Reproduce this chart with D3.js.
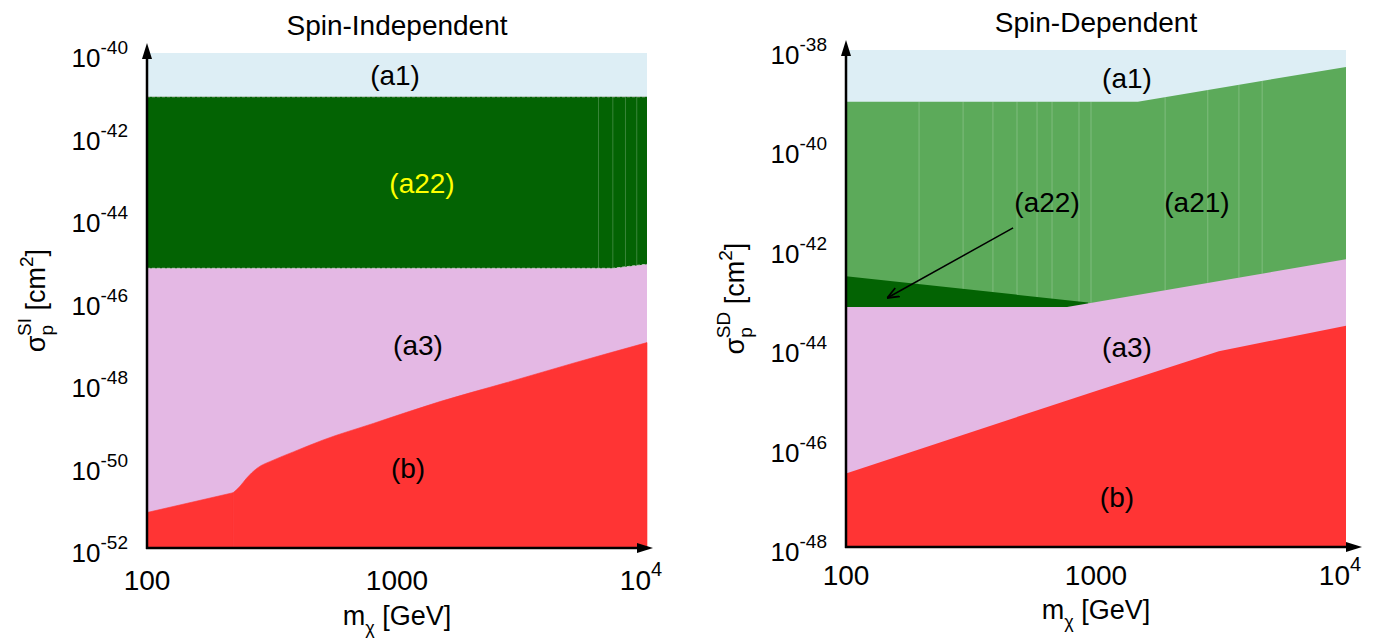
<!DOCTYPE html>
<html>
<head>
<meta charset="utf-8">
<script src="https://cdn.jsdelivr.net/npm/d3@7"></script>
<style>
  body { margin: 0; background: #fff; }
  text { font-family: "Liberation Sans", Arial, Helvetica, sans-serif; fill: #000; }
</style>
</head>
<body>
<svg id="chart" width="1378" height="641"></svg>
<script>
// ---------------- data (mass in GeV, log10 of cross section in cm^2) ----------------
var massTicks = [100, 1000, 10000];
var massTickLabels = [["100"], ["1000"], ["10", "4"]];

var siTickExps = [-40, -42, -44, -46, -48, -50, -52];
var sdTickExps = [-38, -40, -42, -44, -46, -48];

// Spin-Independent boundaries
var siA1Lower = [[100, -41.06], [10000, -41.06]];
var siA22Lower = [[100, -45.22], [7300, -45.22], [10000, -45.12]];
var siBKnee = [[100, -51.14], [221, -50.66]];
var siBUpper = [[221, -50.66], [235, -50.51], [250, -50.31], [275, -50.07], [320, -49.87], [385, -49.67],
                [507, -49.38], [804, -48.98], [1486, -48.45], [2746, -47.99], [5070, -47.52], [10000, -47.02]];
var siStripes = [6400, 7300, 8200, 9100];

// Spin-Dependent boundaries
var sdA1Lower = [[100, -39.04], [1470, -39.04], [10000, -38.34]];
var sdA22Upper = [[100, -42.55], [930, -43.08]];
var sdA3Upper = [[100, -43.17], [766, -43.17], [10000, -42.21]];
var sdBUpper = [[100, -46.52], [1000, -44.86], [3100, -44.06], [10000, -43.55]];
var sdStripes = [196, 294, 387, 483, 581, 667, 855, 955, 1890, 2800, 3730, 4620];

// region labels [text, mass, log10 sigma, colour]
var siLabels = [["(a1)", 982, -40.53, "#000"], ["(a22)", 1259, -43.15, "#ffff00"],
                ["(a3)", 1213, -47.08, "#000"], ["(b)", 1107, -50.06, "#000"]];
var sdLabels = [["(a1)", 1330, -38.56, "#000"], ["(a22)", 637, -41.06, "#000"],
                ["(a21)", 2535, -41.06, "#000"], ["(a3)", 1330, -43.98, "#000"], ["(b)", 1213, -46.99, "#000"]];
var sdPointer = [[466, -41.58], [146, -42.99]];

var colA1 = "#ddeef5", colA21 = "#5caa5a", colA22 = "#036303", colA3 = "#e4b8e4", colB = "#ff3434";

var svg = d3.select("#chart");
var defs = svg.append("defs");
defs.append("marker").attr("id", "ptr").attr("viewBox", "0 0 10 10")
    .attr("refX", 10).attr("refY", 5).attr("markerWidth", 12).attr("markerHeight", 12)
    .attr("markerUnits", "userSpaceOnUse").attr("orient", "auto")
    .append("path").attr("d", "M0,1 L10,5 L0,9").attr("fill", "none").attr("stroke", "#000").attr("stroke-width", 1.5);

// linear interpolation of a boundary in log-mass
function interp(bound, m) {
    var lm = Math.log10(m);
    for (var i = 0; i < bound.length - 1; i++) {
        var a = Math.log10(bound[i][0]), b = Math.log10(bound[i + 1][0]);
        if (lm >= a && lm <= b) return bound[i][1] + (bound[i + 1][1] - bound[i][1]) * (lm - a) / (b - a);
    }
    return bound[bound.length - 1][1];
}

function panel(cfg) {
    var g = svg.append("g");
    var x = d3.scaleLog().domain([100, 10000]).range([cfg.x0, cfg.x1]);
    var y = d3.scaleLog().domain([Math.pow(10, cfg.yMin), Math.pow(10, cfg.yMax)]).range([cfg.bottom, cfg.top]);
    var ys = function (e) { return y(Math.pow(10, e)); };

    // background region (a1)
    g.append("rect").attr("x", cfg.x0).attr("y", cfg.top)
        .attr("width", cfg.x1 - cfg.x0).attr("height", cfg.bottom - cfg.top).attr("fill", colA1);

    cfg.layers.forEach(function (l) {
        var area = d3.area().x(function (d) { return x(d[0]); })
            .y0(cfg.bottom).y1(function (d) { return ys(d[1]); })
            .curve(l.smooth ? d3.curveMonotoneX : d3.curveLinear);
        var p = g.append("path").datum(l.data).attr("d", area).attr("fill", l.color);
        if (l.seam) p.attr("stroke", l.color).attr("stroke-width", 0.6);
        if (l.stripes) {
            l.stripes.forEach(function (m) {
                g.append("line").attr("x1", x(m)).attr("x2", x(m))
                    .attr("y1", ys(interp(l.data, m))).attr("y2", ys(interp(l.stripeEnd, m)))
                    .attr("stroke", "#fff").attr("stroke-opacity", 0.22).attr("stroke-width", 1);
            });
        }
    });

    var line = d3.line().x(function (d) { return x(d[0]); }).y(function (d) { return ys(d[1]); });
    (cfg.dashed || []).forEach(function (b) {
        g.append("path").datum(b).attr("d", line).attr("fill", "none")
            .attr("stroke", "#c8c8c8").attr("stroke-width", 1).attr("stroke-dasharray", "3,2");
    });

    // region labels
    cfg.labels.forEach(function (l) {
        g.append("text").attr("x", x(l[1])).attr("y", ys(l[2])).attr("dy", "0.35em")
            .attr("text-anchor", "middle").attr("font-size", 28).style("fill", l[3]).text(l[0]);
    });
    if (cfg.pointer) {
        g.append("path").datum(cfg.pointer).attr("d", line).attr("fill", "none")
            .attr("stroke", "#000").attr("stroke-width", 1.5).attr("marker-end", "url(#ptr)");
    }

    // axes with arrows
    g.append("line").attr("x1", cfg.x0).attr("x2", cfg.x0).attr("y1", cfg.bottom + 1).attr("y2", cfg.top - 4)
        .attr("stroke", "#000").attr("stroke-width", 2.5);
    g.append("path").attr("d", "M" + cfg.x0 + "," + (cfg.top - 10) + " l-5,16 l10,0 z").attr("fill", "#000");
    g.append("line").attr("x1", cfg.x0 - 1).attr("x2", cfg.x1 + cfg.arrowX - 6).attr("y1", cfg.bottom).attr("y2", cfg.bottom)
        .attr("stroke", "#000").attr("stroke-width", 2.5);
    g.append("path").attr("d", "M" + (cfg.x1 + cfg.arrowX) + "," + cfg.bottom + " l-16,-5 l0,10 z").attr("fill", "#000");

    // y tick labels
    cfg.yTicks.forEach(function (e) {
        var t = g.append("text").attr("x", cfg.x0 - 19).attr("y", ys(e) + 14)
            .attr("text-anchor", "end").attr("font-size", 26);
        t.append("tspan").text("10");
        t.append("tspan").attr("dy", -13).attr("font-size", 19).text(String(e));
    });

    // x tick labels
    massTicks.forEach(function (m, i) {
        var lab = massTickLabels[i];
        var t = g.append("text").attr("x", x(m) + (lab.length > 1 ? -6 : 0)).attr("y", cfg.xTickY)
            .attr("text-anchor", "middle").attr("font-size", 28);
        t.append("tspan").text(lab[0]);
        if (lab.length > 1) t.append("tspan").attr("dy", -14).attr("font-size", 20).text(lab[1]);
    });

    // title
    g.append("text").attr("x", (cfg.x0 + cfg.x1) / 2).attr("y", cfg.titleY)
        .attr("text-anchor", "middle").attr("font-size", 28).text(cfg.title);

    // x axis title
    var xt = g.append("text").attr("x", (cfg.x0 + cfg.x1) / 2).attr("y", cfg.xTitleY)
        .attr("text-anchor", "middle").attr("font-size", 27);
    xt.append("tspan").text("m");
    xt.append("tspan").attr("dy", 9).attr("font-size", 18).text("\u03C7");
    xt.append("tspan").attr("dy", -9).text(" [GeV]");

    // y axis title
    var yt = g.append("text").attr("transform", "translate(" + (cfg.x0 - 102) + "," + ((cfg.top + cfg.bottom) / 2) + ") rotate(-90)")
        .attr("text-anchor", "middle").attr("font-size", 27);
    yt.append("tspan").text("\u03C3");
    yt.append("tspan").attr("dy", 8).attr("font-size", 19).text("p");
    yt.append("tspan").attr("dy", -22).attr("dx", -11).attr("font-size", 19).text(cfg.sup);
    yt.append("tspan").attr("dy", 14).text(" [cm");
    yt.append("tspan").attr("dy", -12).attr("font-size", 19).text("2");
    yt.append("tspan").attr("dy", 12).text("]");
}

panel({
    x0: 147, x1: 647, top: 53, bottom: 548, yMin: -52, yMax: -40, arrowX: 6,
    yTicks: siTickExps, xTickY: 590, titleY: 35, xTitleY: 625, title: "Spin-Independent", sup: "SI",
    layers: [
        {data: siA1Lower, color: colA22, stripes: siStripes, stripeEnd: siA22Lower},
        {data: siA22Lower, color: colA3},
        {data: siBKnee, color: colB, seam: true},
        {data: siBUpper, color: colB, smooth: true, seam: true}
    ],
    dashed: [siA1Lower, siA22Lower],
    labels: siLabels
});

panel({
    x0: 846, x1: 1346, top: 50, bottom: 547, yMin: -48, yMax: -38, arrowX: 16,
    yTicks: sdTickExps, xTickY: 585, titleY: 32, xTitleY: 619, title: "Spin-Dependent", sup: "SD",
    layers: [
        {data: sdA1Lower, color: colA21, stripes: sdStripes, stripeEnd: sdA3Upper},
        {data: sdA22Upper, color: colA22},
        {data: sdA3Upper, color: colA3},
        {data: sdBUpper, color: colB}
    ],
    labels: sdLabels,
    pointer: sdPointer
});
</script>
</body>
</html>
